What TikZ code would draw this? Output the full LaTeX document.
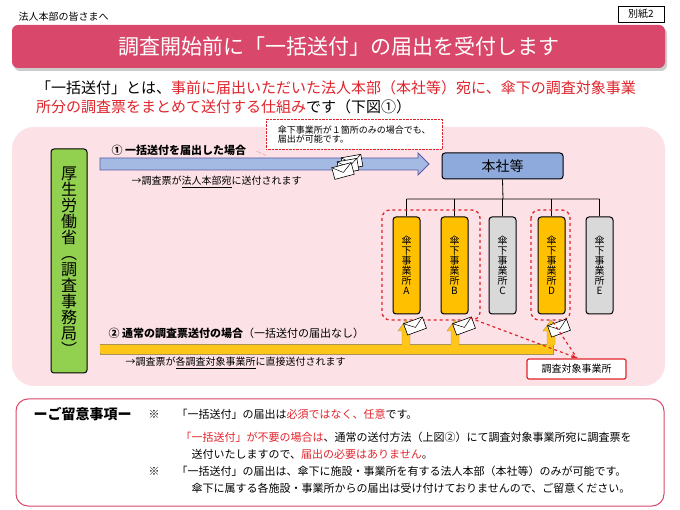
\documentclass[tikz,border=0pt]{standalone}
\usepackage{fontspec}
\setmainfont{Noto Sans CJK JP}
\usetikzlibrary{arrows.meta}
\definecolor{tred}{HTML}{E0242C}
\definecolor{bar}{HTML}{D9486A}
\definecolor{pinkbg}{HTML}{FCE1E6}
\definecolor{bluef}{HTML}{8EA9DB}
\definecolor{yel}{HTML}{FFC000}
\definecolor{grn}{HTML}{92D050}
\definecolor{gry}{HTML}{D9D9D9}
\newcommand{\fs}[1]{\fontsize{#1}{#1}\selectfont}
\tikzset{
 env/.pic={\draw[fill=white,line width=0.6pt] (-10,-6) rectangle (10,6); \draw[line width=0.5pt] (-10,-6)--(0,1.5)--(10,-6);},
 sub/.style={draw=black,line width=1pt,rounded corners=3pt,minimum width=27,minimum height=97,inner sep=0,align=center,font=\fs{10}},
 grp/.style={draw=tred,dashed,line width=1.3pt,rounded corners=8pt}
}
\begin{document}
\begin{tikzpicture}[x=1pt,y=-1pt]
\useasboundingbox (0,0) rectangle (680,510);
\fill[white] (0,0) rectangle (680,510);
\node[anchor=west,font=\fs{10}] (to) at (15,17) {法人本部の皆さまへ};
\node[draw,line width=0.7pt,font=\fs{10},minimum width=46,minimum height=16] (bs) at (641,14) {別紙2};
\fill[gray!40,rounded corners=6pt] (14,28) rectangle (667,71);
\node[fill=bar,rounded corners=6pt,minimum width=653,minimum height=43,text=white,font=\fs{21}] (title) at (338.5,46.5) {調査開始前に「一括送付」の届出を受付します};
\node[anchor=west,font=\fs{15},inner sep=0] (i1) at (36,88) {「一括送付」とは、\textcolor{tred}{事前に届出いただいた法人本部（本社等）宛に、傘下の調査対象事業}};
\node[anchor=west,font=\fs{15},inner sep=0] (i2) at (36,107) {\textcolor{tred}{所分の調査票をまとめて送付する仕組み}です（下図①）};
% pink area
\fill[pinkbg,rounded corners=22pt] (12,127) rectangle (665,386);
% green
\node[draw=black,line width=1pt,fill=grn,rounded corners=3pt,minimum width=36,minimum height=224,inner sep=0,font=\fs{16},align=center] (mhlw) at (69,261) {厚\\生\\労\\働\\省\\︵\\調\\査\\事\\務\\局\\︶};
% blue arrow
\draw[draw=gray!70!blue,fill=bluef!80,line width=0.8pt] (100,158) -- (418,158) -- (418,153) -- (429,164) -- (418,175) -- (418,170) -- (100,170) -- cycle;
\coordinate (a1) at (429,164);
\node[anchor=west,font=\bfseries\fs{11}] (l1) at (108,150) {①\ 一括送付を届出した場合};
\node[anchor=west,font=\fs{10}] (t1) at (128,182) {→調査票が\underline{法人本部宛}に送付されます};
\node[draw=tred,densely dotted,fill=white,align=left,font=\fs{9},minimum width=176,minimum height=30,anchor=north west,inner sep=4] (call) at (266,119) {傘下事業所が１箇所のみの場合でも、\\届出が可能です。};
\draw[tred,densely dotted] ([yshift=-6pt]call.south west) -- (256,151);
\pic[rotate=10] at (352,162) {env}; \pic[rotate=10] at (348,166) {env};
\pic[rotate=15] at (343,171) {env};
% HQ
\node[draw=black,line width=1pt,fill=bluef,rounded corners=3pt,minimum width=121,minimum height=26,font=\fs{14}] (hq) at (502.5,166) {本社等};
\coordinate (bus) at (503,199);
\node[sub,fill=yel] (A) at (406.5,265.5) {傘\\下\\事\\業\\所\\A};
\node[sub,fill=yel] (B) at (454.5,265.5) {傘\\下\\事\\業\\所\\B};
\node[sub,fill=gry] (C) at (502.5,265.5) {傘\\下\\事\\業\\所\\C};
\node[sub,fill=yel] (D) at (551.5,265.5) {傘\\下\\事\\業\\所\\D};
\node[sub,fill=gry] (E) at (599.5,265.5) {傘\\下\\事\\業\\所\\E};
\draw[line width=0.8pt] (hq.south) -- (bus) (A.north|-bus) -- (E.north|-bus);
\foreach \n in {A,B,C,D,E} \draw[line width=0.8pt] (\n.north|-bus) -- (\n.north);
\draw[grp] (382,210) rectangle (480,320);
\draw[grp] (531,210) rectangle (570,320);
% yellow arrows
\fill[yel!90,draw=gray!70!yel] (100,344) rectangle (553,354);
\foreach \x in {406,455,551}{
 \fill[yel!90,draw=gray!70!yel] (\x-4,345) -- (\x-4,331) -- (\x-8,331) -- (\x,320) -- (\x+8,331) -- (\x+4,331) -- (\x+4,345);
}
\fill[yel!90] (100,344.6) rectangle (553,353.4);
\pic[rotate=20] at (415,326) {env};
\pic[rotate=20] at (464,326) {env};
\pic[rotate=20] at (559,328) {env};
\node[anchor=west,font=\fs{11}] (l2) at (105,333) {\textbf{②\ 通常の調査票送付の場合}（一括送付の届出なし）};
\node[anchor=west,font=\fs{10}] (t2) at (122,363) {→調査票が\underline{各調査対象事業所}に直接送付されます};
\node[draw=tred,line width=1.2pt,fill=white,rounded corners=2pt,minimum width=99,minimum height=20,font=\fs{10}] (tgt) at (576.5,369) {調査対象事業所};
\coordinate (tp) at (577,358);
\draw[tred,dashed,line width=1.2pt,-{Stealth[length=6pt]}] (470,318) -- (tp);
\draw[tred,dashed,line width=1.2pt] (553,322) -- (tp);
% bottom note
\draw[bar,line width=1pt,rounded corners=12pt] (16,399) rectangle (664,506);
\node[anchor=west,font=\bfseries\fs{14}] (nt) at (30,414) {ーご留意事項ー};
\begin{scope}[font=\fs{11}]
\node[anchor=west] (m1) at (145,414) {※};
\node[anchor=west] (n1) at (173,414) {「一括送付」の届出は\textcolor{tred}{必須ではなく、任意}です。};
\node[anchor=west] (n2) at (177,437) {\textcolor{tred}{「一括送付」が不要の場合は}、通常の送付方法（上図②）にて調査対象事業所宛に調査票を};
\node[anchor=west] (n3) at (188,454) {送付いたしますので、\textcolor{tred}{届出の必要はありません}。};
\node[anchor=west] (m2) at (145,471) {※};
\node[anchor=west] (n4) at (173,471) {「一括送付」の届出は、傘下に施設・事業所を有する法人本部（本社等）のみが可能です。};
\node[anchor=west] (n5) at (188,488) {傘下に属する各施設・事業所からの届出は受け付けておりませんので、ご留意ください。};
\end{scope}
\end{tikzpicture}
\end{document}
